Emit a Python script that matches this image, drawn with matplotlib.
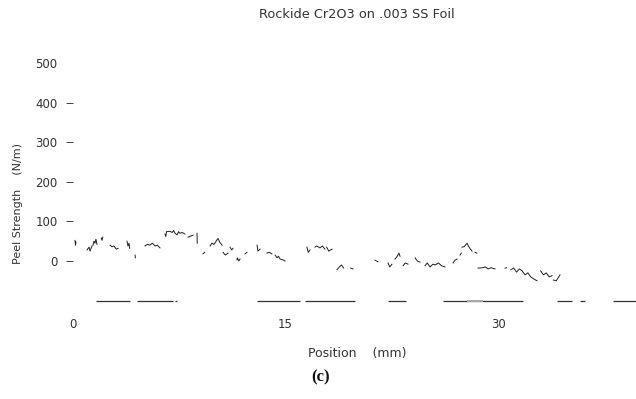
import numpy as np
import matplotlib
matplotlib.use("Agg")
import matplotlib.pyplot as plt

nan = np.nan

position_mm = [
    0.14, 0.18, 0.21, nan,
    0.99, 1.13, 1.20, 1.34, nan,
    1.41, 1.48, 1.55, 1.62, 1.69, nan,
    2.00, 2.05, 2.10, nan,
    2.61, 2.75, 2.89, 3.05, 3.18, nan,
    3.81, 3.88, 3.95, 4.00, nan,
    4.38, 4.40, nan,
    5.08, 5.25, 5.43, 5.60, 5.79, 5.95, 6.14, nan,
    6.49, 6.55, 6.60, 6.85, 7.00, 7.10, 7.20, 7.35, 7.45, 7.55, 7.70, 7.90, nan,
    8.12, 8.30, 8.47, nan,
    8.75, 8.77, nan,
    9.17, 9.30, nan,
    9.67, 9.80, 9.95, 10.10, 10.23, 10.35, 10.52, nan,
    10.59, 10.75, 10.94, nan,
    11.08, 11.20, 11.29, nan,
    11.57, 11.60, 11.70, 11.79, nan,
    12.14, 12.28, nan,
    12.99, 13.05, 13.20, nan,
    13.69, 13.85, 14.04, nan,
    14.26, 14.40, 14.50, 14.61, 14.80, 14.96, nan,
    16.51, 16.60, 16.73, nan,
    17.08, 17.20, 17.43, 17.60, 17.78, nan,
    17.90, 18.05, 18.28, nan,
    18.63, 18.80, 18.95, 19.10, nan,
    19.60, 19.76, nan,
    21.31, 21.52, nan,
    22.23, 22.35, 22.51, nan,
    22.72, 22.85, 23.00, 23.08, nan,
    23.29, 23.45, 23.64, nan,
    24.14, 24.30, 24.49, nan,
    24.84, 25.00, 25.20, 25.40, 25.55, 25.80, 26.00, 26.25, nan,
    26.82, 26.95, 27.10, nan,
    27.31, 27.40, nan,
    27.45, 27.60, 27.81, 27.90, 28.05, 28.16, nan,
    28.37, 28.50, nan,
    28.58, 28.90, 29.10, 29.30, 29.50, 29.78, nan,
    30.49, 30.60, nan,
    30.90, 31.10, 31.30, 31.50, 31.70, 31.90, 32.10, 32.30, 32.50, 32.75, nan,
    33.00, 33.20, 33.40, 33.60, 33.80, nan,
    33.90, 34.10, 34.25, 34.37,
]
peel_strength = [
    52, 40, 48, nan,
    28, 35, 25, 38, nan,
    40, 50, 45, 55, 42, nan,
    58, 52, 60, nan,
    40, 36, 38, 30, 32, nan,
    50, 38, 45, 32, nan,
    15, 8, nan,
    38, 42, 40, 45, 38, 40, 33, nan,
    68, 62, 74, 75, 72, 77, 70, 66, 74, 70, 72, 68, nan,
    60, 63, 65, nan,
    70, 45, nan,
    18, 22, nan,
    38, 45, 42, 50, 57, 48, 40, nan,
    22, 15, 20, nan,
    35, 28, 32, nan,
    3, 8, 0, 5, nan,
    18, 22, nan,
    40, 25, 30, nan,
    20, 22, 18, nan,
    15, 8, 12, 5, 3, 0, nan,
    35, 22, 28, nan,
    35, 38, 33, 38, 30, nan,
    35, 25, 30, nan,
    -22, -15, -10, -18, nan,
    -18, -20, nan,
    2, -2, nan,
    -5, -15, -8, nan,
    5, 10, 20, 12, nan,
    -12, -5, -8, nan,
    8, 0, -3, nan,
    -12, -5, -15, -8, -10, -5, -12, -15, nan,
    -5, 2, 5, nan,
    15, 20, nan,
    35, 36, 45, 38, 30, 25, nan,
    22, 20, nan,
    -18, -17, -15, -20, -17, -20, nan,
    -18, -17, nan,
    -22, -18, -28, -20, -25, -35, -30, -40, -45, -50, nan,
    -25, -35, -30, -40, -37, nan,
    -48, -50, -42, -35,
]

# zero-load reference line drawn by the recorder
base_level = -100
base_starts = [1.62, 4.52, 7.20, 12.99, 16.37, 22.23, 26.11, 34.16, 35.78, 38.11]
base_ends = [4.02, 7.06, 7.34, 16.02, 19.90, 23.50, 31.76, 35.22, 36.13, 39.73]
faint_start, faint_end = 27.8, 28.9   # lighter stretch of the reference line

y_ticks = [0, 100, 200, 300, 400, 500]
x_ticks = [0, 15, 30]

W, H = 636, 399
fig = plt.figure(figsize=(W / 100, H / 100), dpi=100)

# axes placed in pixel units: x=0 at px 73, y=0 at px 261
left, right = 73, 636
top, bottom = 55, 310
ax = fig.add_axes([left / W, 1 - bottom / H, (right - left) / W, (bottom - top) / H])
px_per_mm = 14.17
px_per_unit = 0.396
ax.set_xlim(0, (right - left) / px_per_mm)
ax.set_ylim(-(bottom - 261) / px_per_unit, (261 - top) / px_per_unit)

ink = "#1e1e1e"
ax.plot(position_mm, peel_strength, color=ink, lw=0.7)
ax.hlines([base_level] * len(base_starts), base_starts, base_ends, color="#333333", lw=0.9)
ax.hlines(base_level, faint_start, faint_end, color="#aaaaaa", lw=1.4)

for s in ax.spines.values():
    s.set_visible(False)

ax.set_yticks(y_ticks)
ax.set_yticklabels([str(v) for v in y_ticks])
ax.tick_params(axis="y", length=5, width=0.7, color="#444444", pad=6,
               labelsize=8.5, labelcolor="#333333")
ax.yaxis.get_major_ticks()[-1].tick1line.set_visible(False)

ax.set_xticks(x_ticks)
ax.set_xticklabels([str(v) for v in x_ticks])
ax.tick_params(axis="x", length=0, pad=6, labelsize=8.5, labelcolor="#333333")

fig.text(357 / W, 1 - 14 / H, "Rockide Cr2O3 on .003 SS Foil", ha="center", va="center",
         fontsize=9.3, color="#333333")
fig.text(357 / W, 1 - 353 / H, "Position    (mm)", ha="center", va="center",
         fontsize=9, color="#333333")
fig.text(18 / W, 1 - 203 / H, "Peel Strength    (N/m)", ha="center", va="center",
         rotation=90, fontsize=8, color="#333333")
fig.text(321 / W, 1 - 377 / H, "(c)", ha="center", va="center", fontsize=12,
         fontweight="bold", family="Liberation Serif", color="#111111")

fig.savefig("out.png", dpi=100)
